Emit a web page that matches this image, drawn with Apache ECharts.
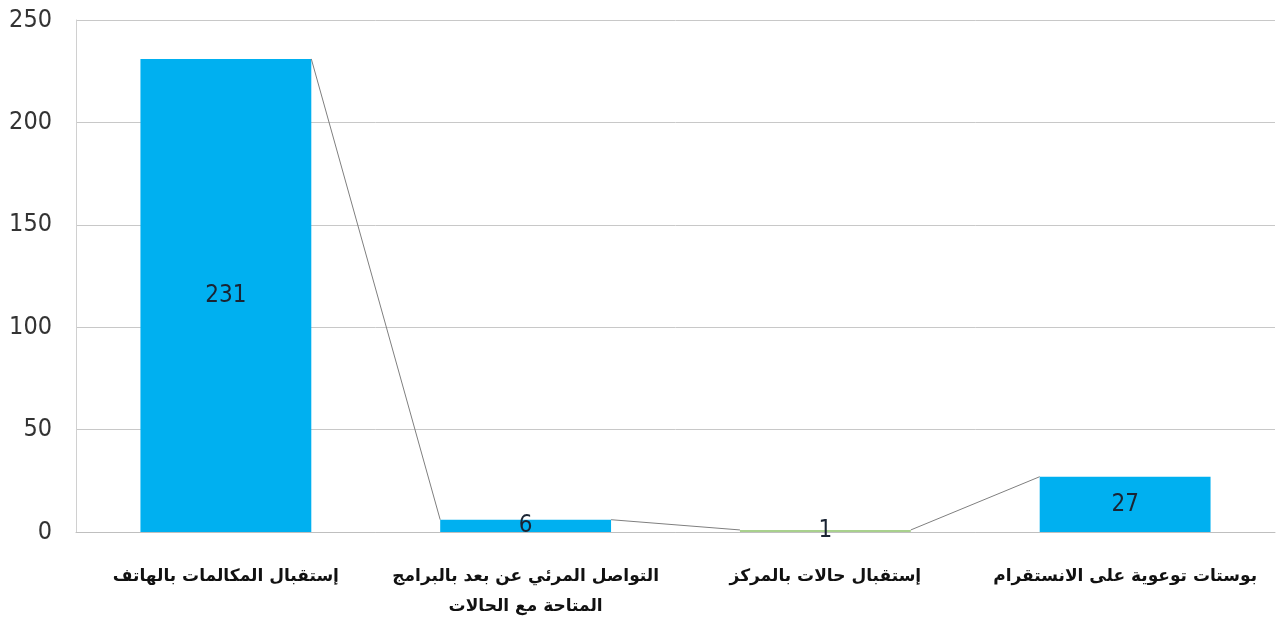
<!DOCTYPE html>
<html><head><meta charset="utf-8">
<script src="https://cdn.jsdelivr.net/npm/echarts@6/dist/echarts.min.js"></script>
<style>html,body{margin:0;padding:0;background:#fff}#c{width:1282px;height:635px}</style>
</head><body><div id="c"></div>
<script>
const categories = ['إستقبال المكالمات بالهاتف', 'التواصل المرئي عن بعد بالبرامج\nالمتاحة مع الحالات', 'إستقبال حالات بالمركز', 'بوستات توعوية على الانستقرام'];
const values = [231, 6, 1, 27];
const barColors = ['#00b0f0', '#00b0f0', '#a9d18e', '#00b0f0'];
const yTicks = [0, 50, 100, 150, 200, 250];

const BAR_RATIO = 0.57;
const connectorData = values.slice(0, -1).map((v, i) => [i, v, values[i + 1]]);
const NARROW = '"DejaVu Sans Condensed", "Liberation Sans Narrow", sans-serif';

const chart = echarts.init(document.getElementById('c'));
chart.setOption({
  animation: false,
  grid: { left: 76, right: 7, top: 20, bottom: 103 },
  xAxis: {
    type: 'category', data: categories,
    axisTick: { show: false },
    axisLine: { show: true, lineStyle: { color: '#bfbfbf', width: 1 } },
    axisLabel: { color: '#111', fontSize: 17, fontWeight: 'bold', margin: 30, lineHeight: 30, fontFamily: '"DejaVu Sans", sans-serif', interval: 0 }
  },
  yAxis: {
    type: 'value', min: yTicks[0], max: yTicks[yTicks.length - 1], interval: 50,
    axisLine: { show: true, lineStyle: { color: '#d0d0d0' } },
    axisTick: { show: false },
    splitLine: { lineStyle: { color: '#c8c8c8', width: 1 } },
    axisLabel: { color: '#333', fontSize: 25, margin: 24, fontFamily: NARROW }
  },
  series: [
    {
      type: 'bar', barWidth: (BAR_RATIO * 100) + '%',
      data: values.map((v, i) => ({ value: v, itemStyle: { color: barColors[i] } })),
      label: { show: true, position: 'inside', color: '#1a2433', fontSize: 24, fontFamily: NARROW },
      z: 2
    },
    {
      type: 'custom', data: connectorData, z: 3, silent: true,
      renderItem: function (params, api) {
        const i = api.value(0);
        const half = api.size([1, 0])[0] * BAR_RATIO / 2;
        const p1 = api.coord([i, api.value(1)]);
        const p2 = api.coord([i + 1, api.value(2)]);
        return { type: 'line', shape: { x1: p1[0] + half, y1: p1[1], x2: p2[0] - half, y2: p2[1] }, style: { stroke: '#7f7f7f', lineWidth: 1 } };
      }
    }
  ]
});
</script></body></html>
